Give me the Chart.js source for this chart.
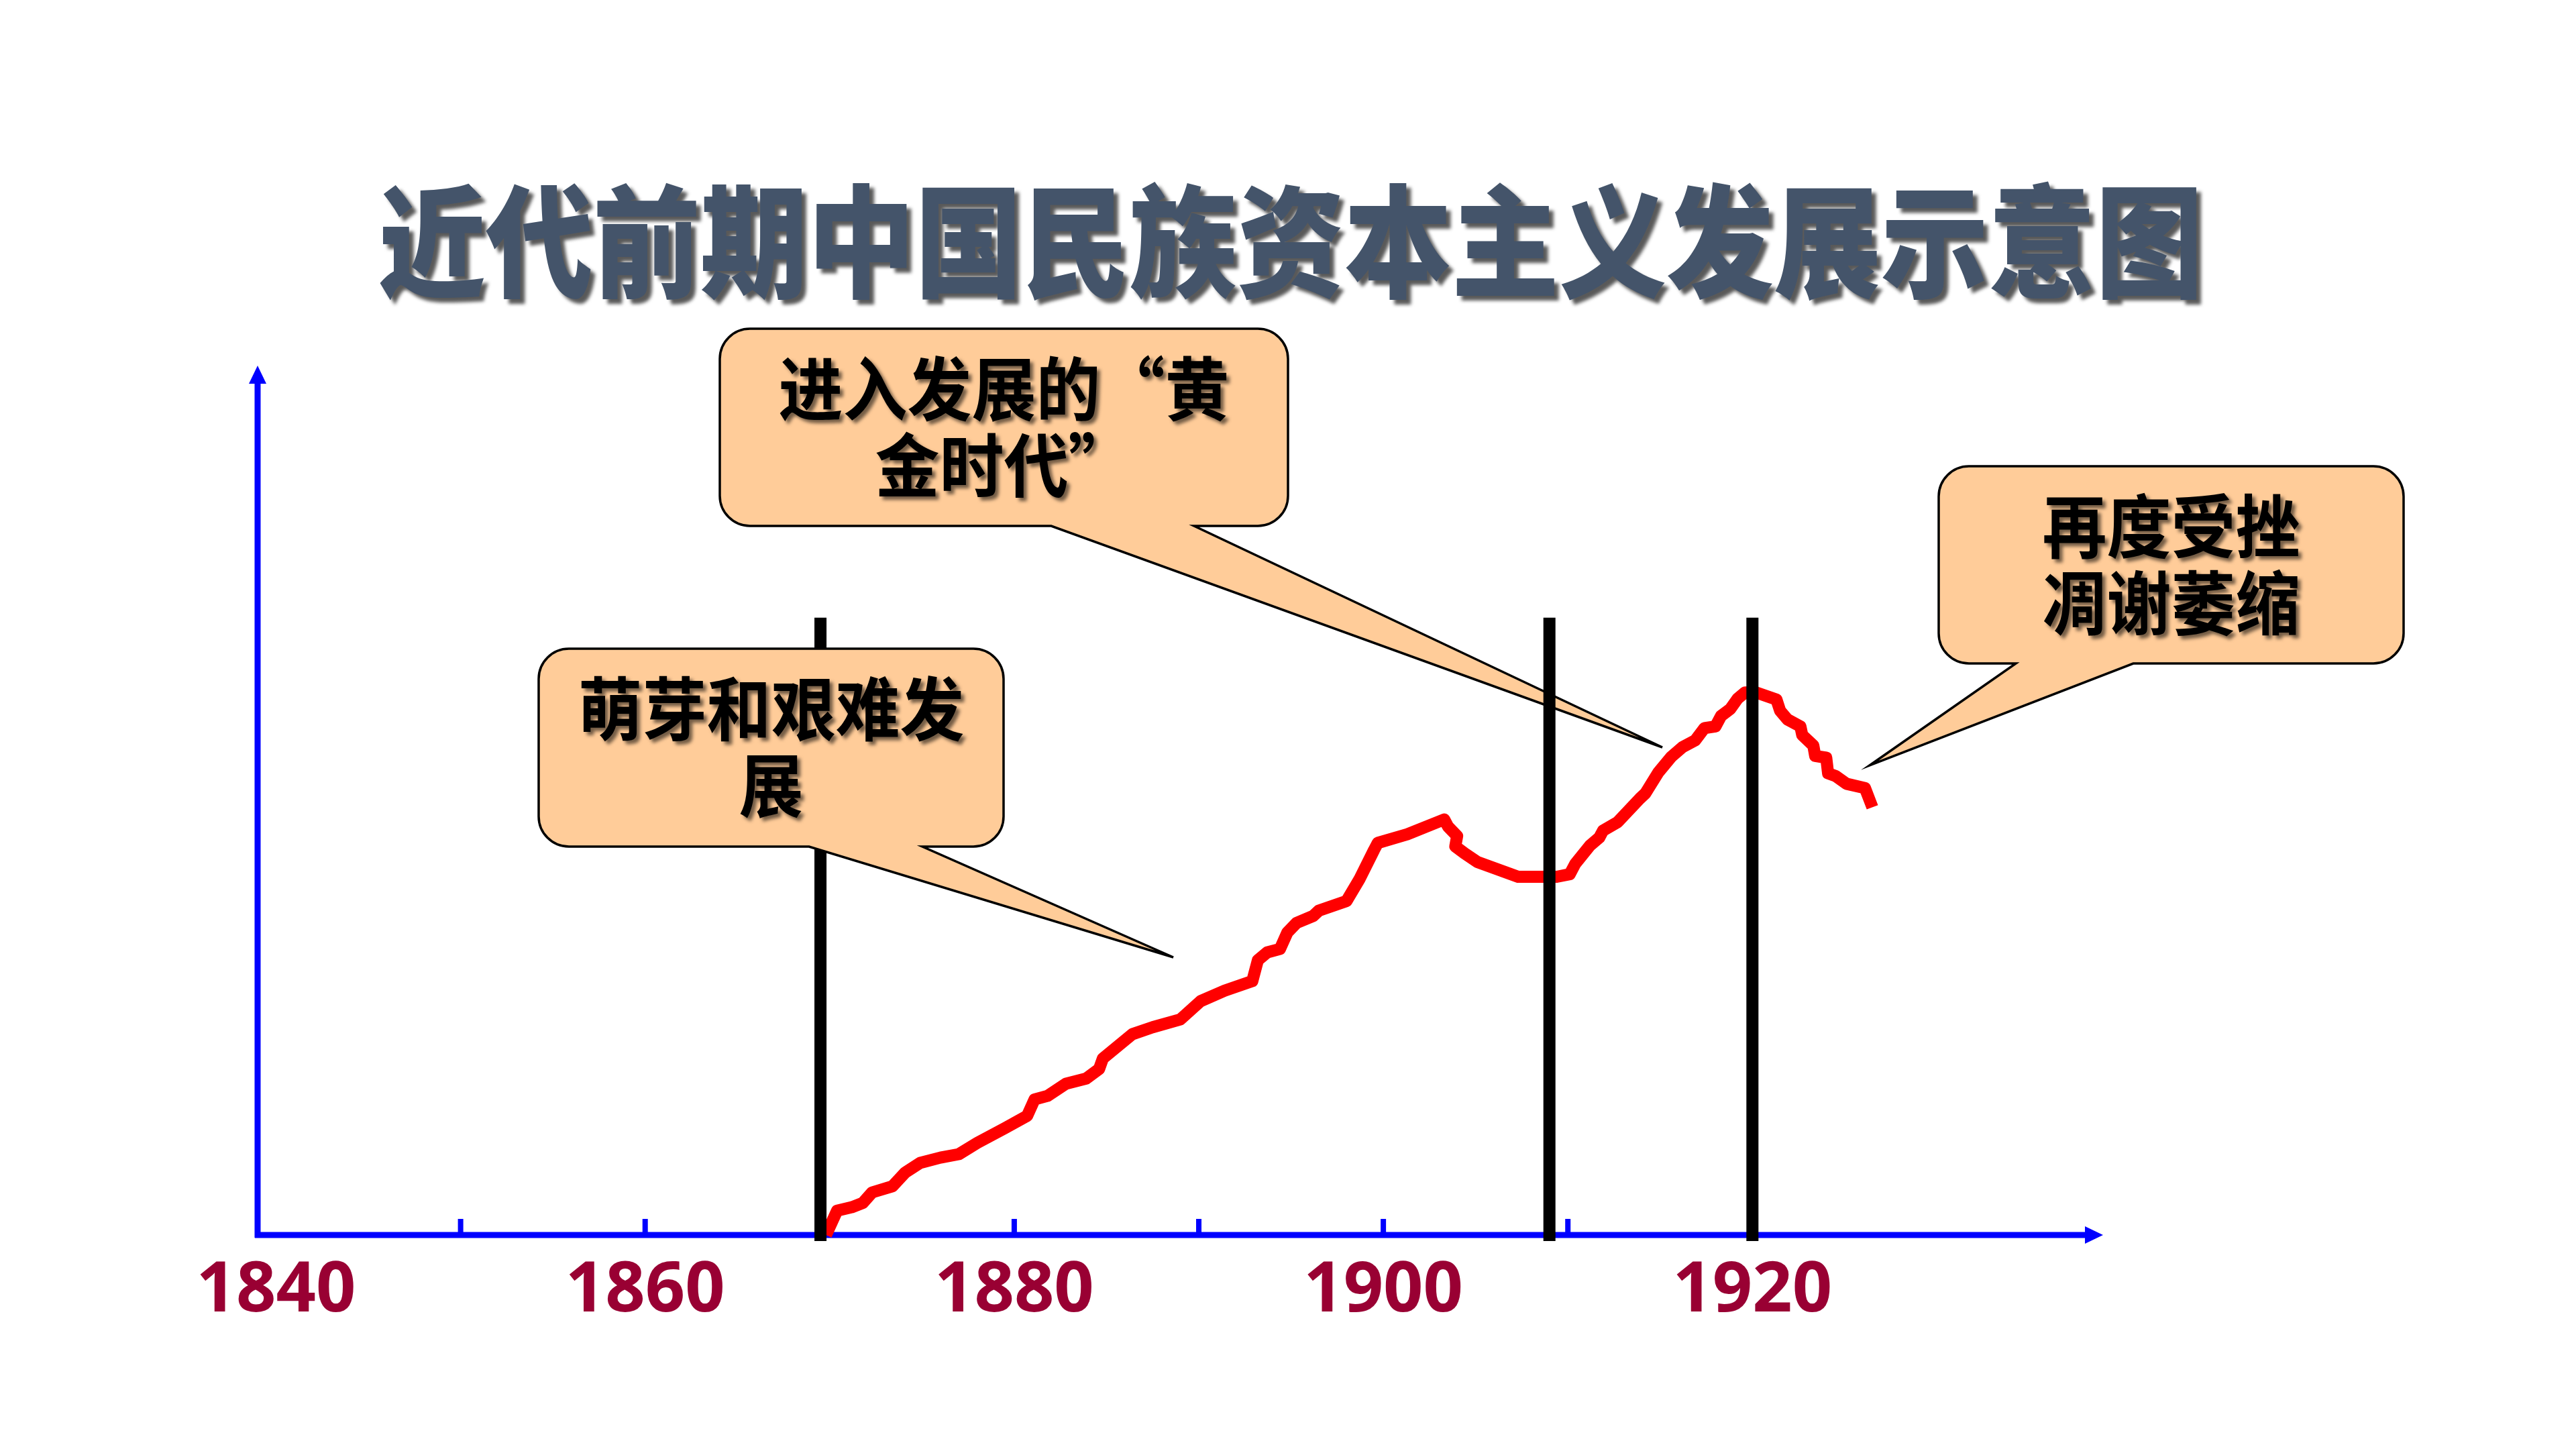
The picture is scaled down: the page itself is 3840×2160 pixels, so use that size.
<!DOCTYPE html>
<html>
<head>
<meta charset="utf-8">
<script src="https://cdn.jsdelivr.net/npm/chart.js@4.4.1/dist/chart.umd.min.js"></script>
<style>
  html, body { margin: 0; padding: 0; background: #fff; }
  #wrap { width: 3840px; height: 2160px; }
</style>
</head>
<body>
<div id="wrap"><canvas id="chart"></canvas></div>
<script>
const titleText = '近代前期中国民族资本主义发展示意图';

// red curve (year, relative size)
const years = [1869.8, 1870.4, 1871.2, 1871.8, 1872.3, 1873.4, 1874.1, 1874.9, 1876.0, 1877.0,
  1878.0, 1879.5, 1880.7, 1881.1, 1881.8, 1882.8, 1883.9, 1884.6, 1884.8, 1886.4,
  1887.5, 1889.0, 1890.1, 1891.4, 1892.9, 1893.2, 1893.7, 1894.4, 1894.8, 1895.3,
  1896.2, 1896.5, 1898.0, 1898.7, 1899.5, 1899.7, 1901.3, 1903.3, 1903.5, 1904.0,
  1903.9, 1904.4, 1905.1, 1907.3, 1909.4, 1910.1, 1910.4, 1911.2, 1911.7, 1911.9,
  1912.7, 1913.9, 1914.2, 1914.9, 1915.6, 1916.2, 1916.9, 1917.4, 1918.0, 1918.3,
  1918.8, 1919.2, 1919.6, 1920.2, 1921.3, 1921.5, 1921.9, 1922.6, 1922.7, 1923.3,
  1923.4, 1924.0, 1924.1, 1924.5, 1925.1, 1926.1, 1926.5];
const values = [0, 2.8, 3.2, 3.7, 4.9, 5.6, 7.2, 8.3, 8.9, 9.3,
  10.6, 12.3, 13.7, 15.6, 16.0, 17.4, 18.0, 19.1, 20.3, 23.1,
  23.9, 24.8, 26.9, 28.1, 29.2, 31.6, 32.5, 32.9, 34.8, 35.9,
  36.7, 37.3, 38.4, 40.9, 44.3, 45.1, 46.1, 47.8, 47.0, 45.9,
  44.7, 43.9, 42.9, 41.2, 41.2, 41.5, 42.7, 44.8, 45.7, 46.5,
  47.5, 50.2, 50.8, 53.2, 55.0, 56.1, 56.9, 58.3, 58.5, 59.7,
  60.5, 61.7, 62.4, 62.4, 61.6, 60.3, 59.3, 58.5, 57.5, 56.3,
  55.1, 54.9, 53.1, 52.8, 51.9, 51.4, 49.2];

// black dividing lines between the periods
const dividers = [1869.5, 1909, 1920];
const dividerRange = [-0.7, 71];

const labelYears = [1840, 1860, 1880, 1900, 1920];
const tickYears = [1850, 1860, 1870, 1880, 1890, 1900, 1910, 1920];

const calloutTexts = [
  ['萌芽和艰难发', '展'],
  ['进入发展的“黄', '金时代”'],
  ['再度受挫', '凋谢萎缩']
];

// callout boxes (pixels), tail base on the bottom edge and tail tip
const calloutBoxes = [
  { x: 803, y: 967, w: 693, h: 295, base: [1206, 1375], tip: [1749, 1427], front: true },
  { x: 1073, y: 490, w: 847, h: 294, base: [1567, 1780], tip: [2478, 1114], front: false },
  { x: 2890, y: 695, w: 693, h: 294, base: [3005, 3180], tip: [2787, 1141], front: true }
];

function calloutPath(ctx, b) {
  const r = 45, x0 = b.x, y0 = b.y, x1 = b.x + b.w, y1 = b.y + b.h;
  ctx.beginPath();
  ctx.moveTo(x0 + r, y0);
  ctx.lineTo(x1 - r, y0);
  ctx.arcTo(x1, y0, x1, y0 + r, r);
  ctx.lineTo(x1, y1 - r);
  ctx.arcTo(x1, y1, x1 - r, y1, r);
  ctx.lineTo(b.base[1], y1);
  ctx.lineTo(b.tip[0], b.tip[1]);
  ctx.lineTo(b.base[0], y1);
  ctx.lineTo(x0 + r, y1);
  ctx.arcTo(x0, y1, x0, y1 - r, r);
  ctx.lineTo(x0, y0 + r);
  ctx.arcTo(x0, y0, x0 + r, y0, r);
  ctx.closePath();
}

function drawCallout(ctx, b, lines) {
  ctx.save();
  calloutPath(ctx, b);
  ctx.fillStyle = '#FFCC99';
  ctx.fill();
  ctx.lineWidth = 3.5;
  ctx.strokeStyle = '#000';
  ctx.lineJoin = 'miter';
  ctx.stroke();
  ctx.font = 'bold 96px "Noto Sans CJK SC"';
  ctx.textAlign = 'center';
  ctx.textBaseline = 'middle';
  ctx.fillStyle = '#000';
  ctx.shadowColor = 'rgba(0,0,0,0.55)';
  ctx.shadowOffsetX = 5;
  ctx.shadowOffsetY = 5;
  ctx.shadowBlur = 5;
  const cx = b.x + b.w / 2;
  lines.forEach((t, i) => {
    ctx.save();
    ctx.translate(cx, b.y + 90 + i * 114);
    ctx.scale(1, 1.08);
    ctx.fillText(t, 0, 0);
    ctx.restore();
  });
  ctx.restore();
}

const axesPlugin = {
  id: 'arrowAxes',
  beforeDatasetsDraw(chart) {
    const { ctx, chartArea: a } = chart;
    const xs = chart.scales.x;
    ctx.save();
    ctx.fillStyle = '#0000FF';
    ctx.strokeStyle = '#0000FF';
    ctx.lineWidth = 9;
    ctx.beginPath();
    ctx.moveTo(a.left, a.bottom + 4);
    ctx.lineTo(a.left, a.top + 26);
    ctx.moveTo(a.left - 4, a.bottom);
    ctx.lineTo(a.right - 26, a.bottom);
    ctx.stroke();
    ctx.beginPath();
    ctx.moveTo(a.left, a.top);
    ctx.lineTo(a.left - 13, a.top + 27);
    ctx.lineTo(a.left + 13, a.top + 27);
    ctx.closePath();
    ctx.fill();
    ctx.beginPath();
    ctx.moveTo(a.right, a.bottom);
    ctx.lineTo(a.right - 27, a.bottom - 13);
    ctx.lineTo(a.right - 27, a.bottom + 13);
    ctx.closePath();
    ctx.fill();
    tickYears.forEach(yr => {
      const px = xs.getPixelForValue(yr);
      ctx.fillRect(px - 4, a.bottom - 24, 8, 24);
    });
    ctx.restore();
    calloutBoxes.forEach((b, i) => { if (!b.front) drawCallout(ctx, b, calloutTexts[i]); });
  },
  afterDatasetsDraw(chart) {
    const ctx = chart.ctx;
    calloutBoxes.forEach((b, i) => { if (b.front) drawCallout(ctx, b, calloutTexts[i]); });
    // title
    ctx.save();
    ctx.font = '900 160px "Noto Sans CJK SC"';
    ctx.textAlign = 'center';
    ctx.textBaseline = 'middle';
    ctx.fillStyle = '#44546A';
    ctx.shadowColor = 'rgba(0,0,0,0.65)';
    ctx.shadowOffsetX = 7;
    ctx.shadowOffsetY = 7;
    ctx.shadowBlur = 5;
    ctx.translate(1924, 360);
    ctx.scale(1, 1.14);
    ctx.fillText(titleText, 0, 0);
    ctx.restore();
  }
};

const curve = years.map((yr, i) => ({ x: yr, y: values[i] }));
const dividerSets = dividers.map(yr => ({
  data: [{ x: yr, y: dividerRange[0] }, { x: yr, y: dividerRange[1] }],
  borderColor: '#000',
  borderWidth: 18,
  pointRadius: 0,
  clip: false,
  order: 0
}));

new Chart(document.getElementById('chart'), {
  type: 'line',
  data: {
    datasets: [
      {
        data: curve,
        borderColor: '#FF0000',
        borderWidth: 18,
        borderJoinStyle: 'round',
        tension: 0,
        pointRadius: 0,
        clip: false,
        order: 1
      },
      ...dividerSets
    ]
  },
  options: {
    responsive: true,
    maintainAspectRatio: false,
    animation: false,
    layout: { padding: { left: 384, top: 545, right: 705, bottom: 0 } },
    plugins: { legend: { display: false }, tooltip: { enabled: false } },
    scales: {
      x: {
        type: 'linear',
        min: 1839,
        max: 1939,
        afterBuildTicks: scale => { scale.ticks = labelYears.map(v => ({ value: v })); },
        afterFit: scale => { scale.height = 319; },
        grid: { display: false, drawTicks: false },
        border: { display: false },
        ticks: {
          color: '#990033',
          font: { family: 'Open Sans', weight: 'bold', size: 104 },
          padding: 22,
          autoSkip: false,
          maxRotation: 0,
          callback: v => String(v)
        }
      },
      y: { display: false, min: 0, max: 100 }
    }
  },
  plugins: [axesPlugin]
});
</script>
</body>
</html>
